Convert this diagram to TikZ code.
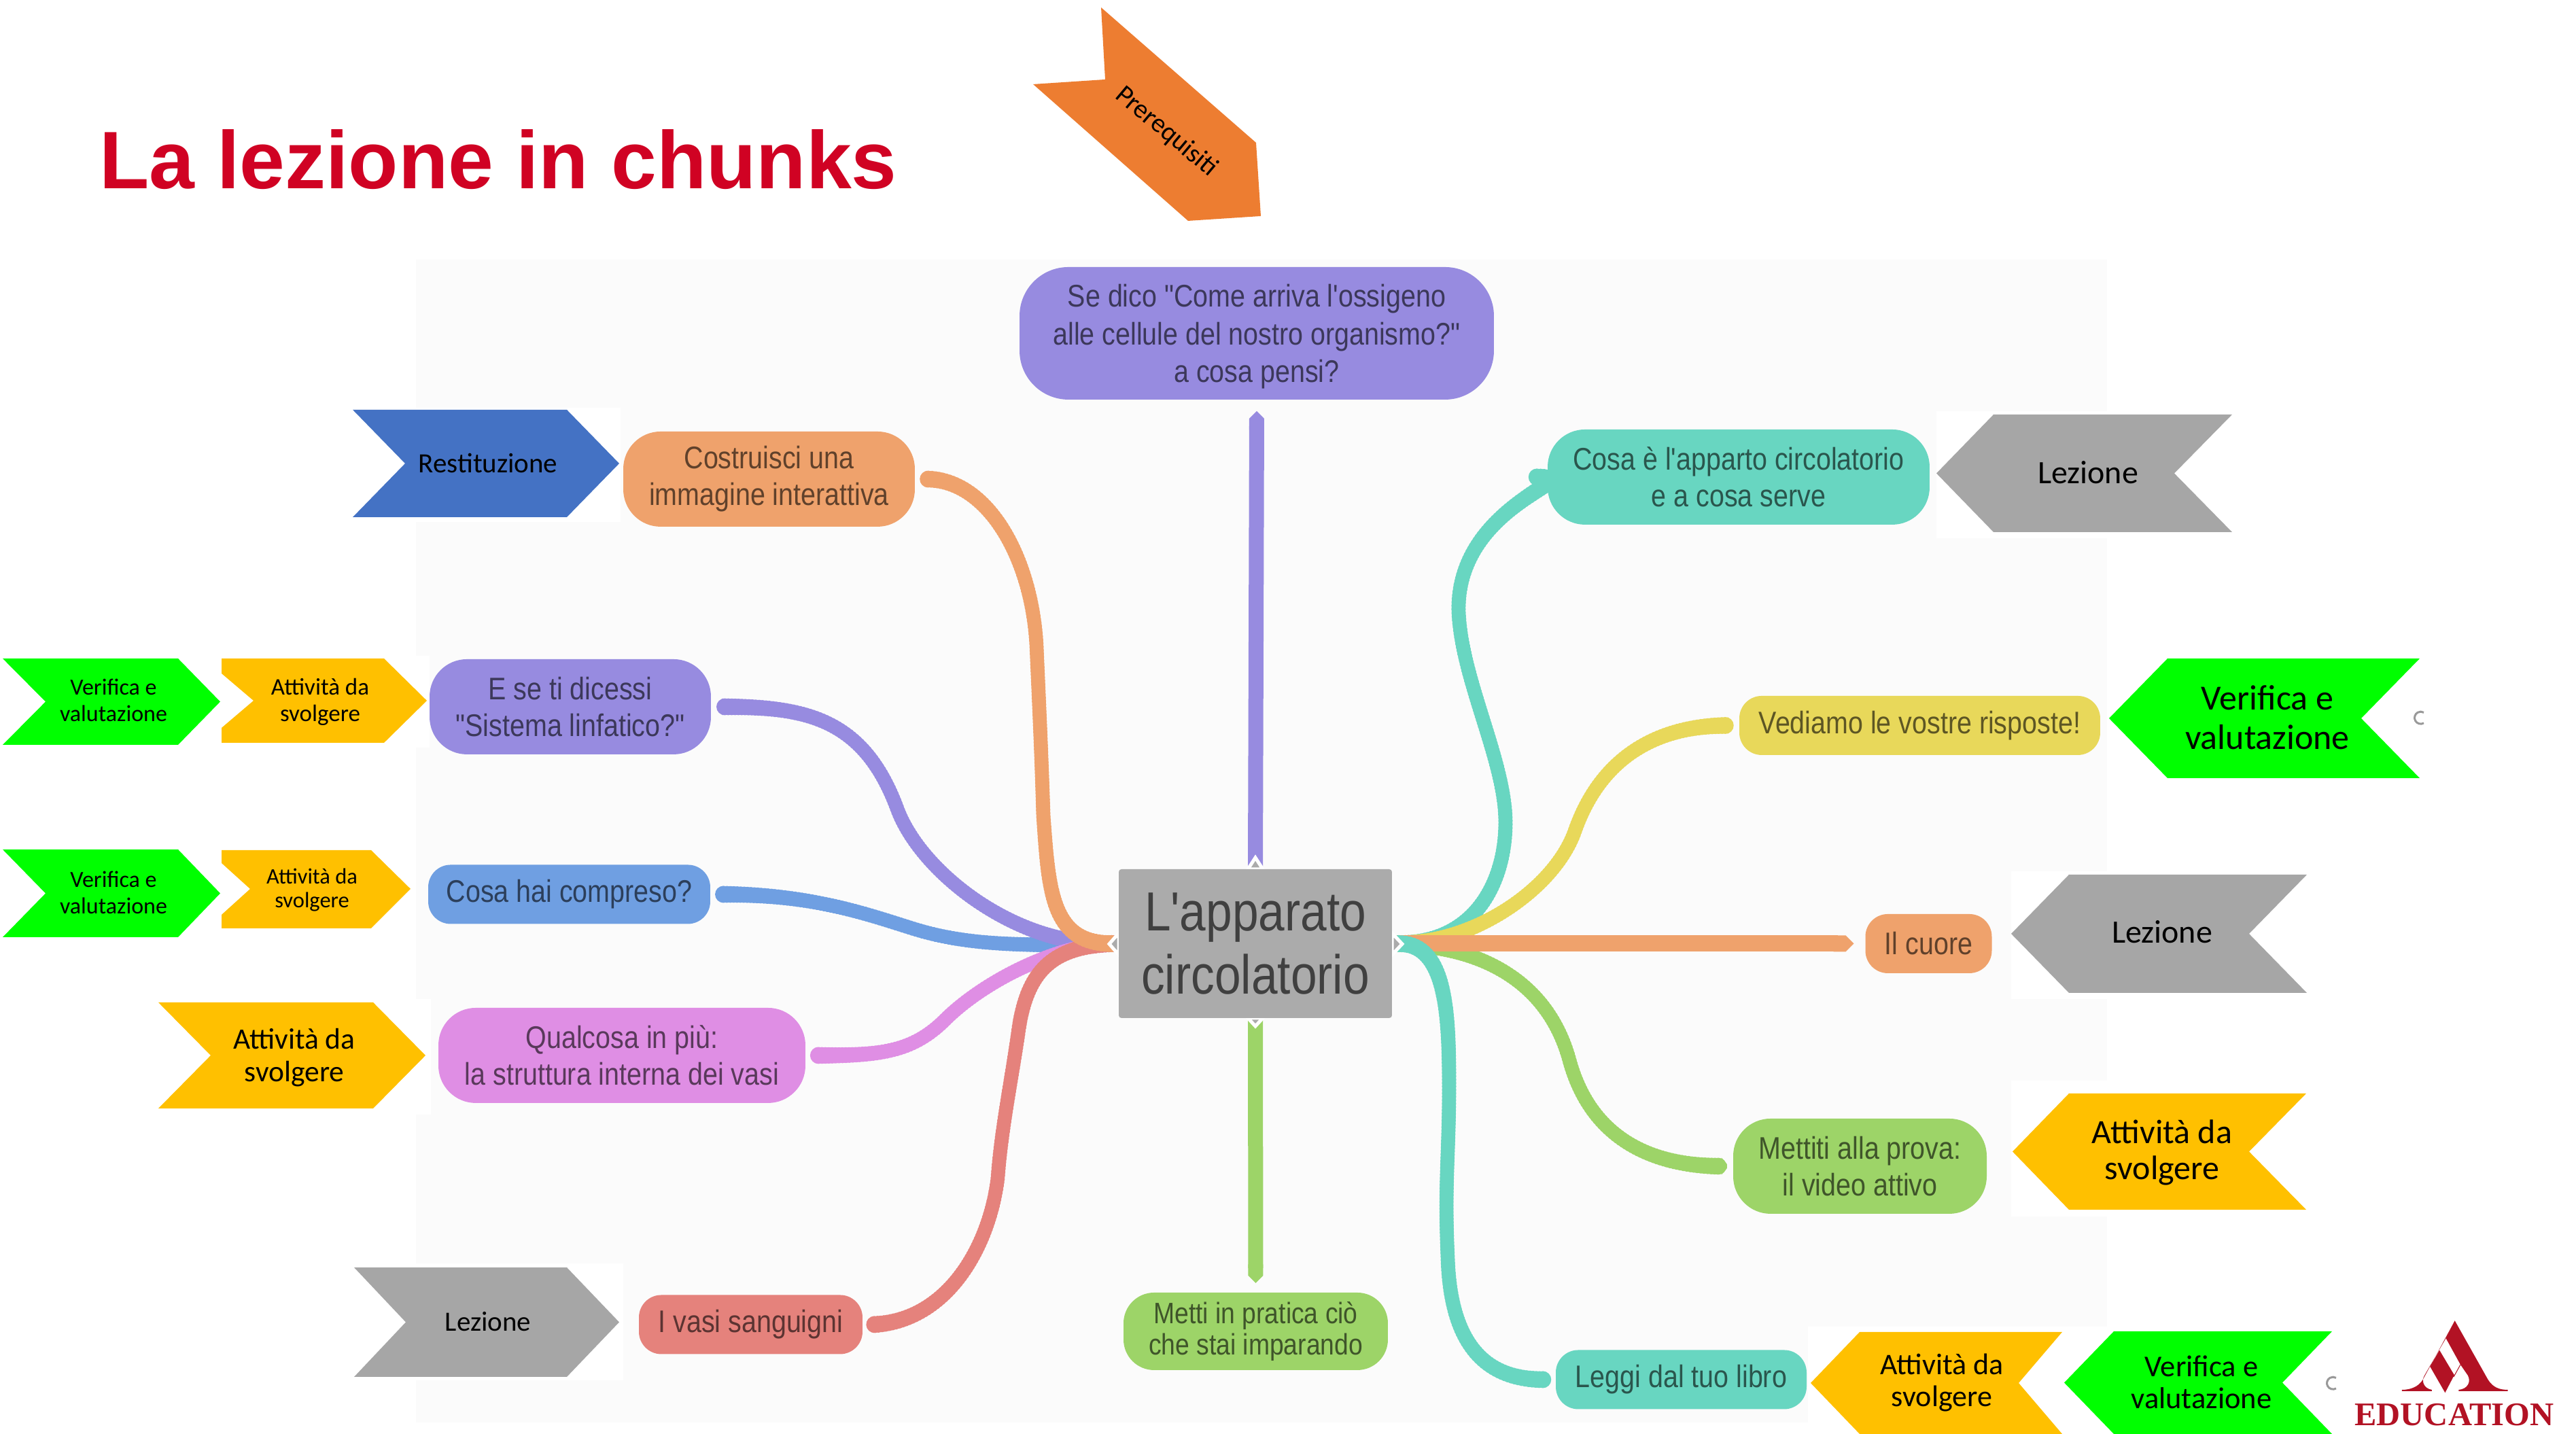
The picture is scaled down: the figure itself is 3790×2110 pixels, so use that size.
\documentclass[tikz,border=0pt]{standalone}
\usepackage{fontspec}
\setmainfont{Carlito}
\newfontfamily\mapfont[FakeStretch=0.857]{Liberation Sans}
\newfontfamily\titlefont{Liberation Sans}
\newfontfamily\logofont{Liberation Serif}
\usetikzlibrary{arrows.meta}
\usetikzlibrary{decorations.markings}

\definecolor{cTitolo}{HTML}{D00223}
\definecolor{cPrereq}{HTML}{ED7D31}
\definecolor{cRest}{HTML}{4472C4}
\definecolor{cViola}{HTML}{978BE0}
\definecolor{cBlu}{HTML}{6F9FE2}
\definecolor{cRosa}{HTML}{DF8EE4}
\definecolor{cRosso}{HTML}{E5827C}
\definecolor{cArancio}{HTML}{EFA26C}
\definecolor{cTeal}{HTML}{68D6C1}
\definecolor{cGiallo}{HTML}{E8D85A}
\definecolor{cVerde}{HTML}{9DD468}
\definecolor{cCentro}{HTML}{ABABAB}
\definecolor{cGrigio}{HTML}{A6A6A6}
\definecolor{cOro}{HTML}{FFC000}
\definecolor{cLime}{HTML}{00FF00}
\definecolor{cLogo}{HTML}{B21224}

\pgfdeclarelayer{sfondo}
\pgfdeclarelayer{rami}
\pgfsetlayers{sfondo,rami,main}

\tikzset{
  mind/.style={rectangle, inner sep=0pt, align=center, font=\mapfont\fontsize{4.6}{5.4}\selectfont},
  tall/.style={mind, minimum height=14pt, rounded corners=5.5pt},
  low/.style={mind, minimum height=8.7pt, rounded corners=3.3pt},
  lab/.style 2 args={inner sep=0pt, align=center, text=black, font=\fontsize{#1}{#2}\selectfont},
  trunk/.style={draw=#1, line width=2.2pt, -{Triangle Cap[]}},
  punta/.style={white, line width=0.5pt, fill=cCentro},
  branch/.style={decoration={markings,
      mark=between positions 0 and 1 step 0.5pt with {
        \pgfmathsetmacro{\relpos}{\pgfkeysvalueof{/pgf/decoration/mark info/distance from start}/\pgfdecoratedpathlength}
        \pgfmathsetmacro{\qpos}{abs(2*\relpos-1)}
        \pgfmathsetmacro{\branchr}{1.05+0.2*\qpos*\qpos*\qpos}
        \fill[#1] (0,0) circle[radius=\branchr pt];},
      mark=at position 1 with {\fill[#1] (0pt,-1.25pt) -- (0.8pt,-0.3pt) -- (0.8pt,0.3pt) -- (0pt,1.25pt) -- cycle;}},
    decorate}
}

\newcommand{\banner}[7]{\fill[#7] (#1,#5) -- (#3,#5) -- (#4,{(#5+#6)/2}) -- (#3,#6) -- (#1,#6) -- (#2,{(#5+#6)/2}) -- cycle;}

\begin{document}
\begin{tikzpicture}[x=0.1pt, y=-0.1pt]
  \useasboundingbox (0,0) rectangle (3790,2110);

  % sfondo della mappa
  \begin{pgfonlayer}{sfondo}
    \fill[white] (0,0) rectangle (3790,2110);
    \fill[black!1.5] (612,382) rectangle (3100,2093);
    \foreach \xa/\ya/\xb/\yb in {612/600/913/768, 612/965/632/1100, 612/1470/634/1640, 612/1859/917/2031,
        2849/605/3100/792, 2959/1282/3100/1470, 2959/1590/3100/1790, 2660/1952/3100/2093}
      \fill[white] (\xa,\ya) rectangle (\xb,\yb);
  \end{pgfonlayer}

  \node[anchor=base west, inner sep=0pt, text=cTitolo, font=\titlefont\bfseries\fontsize{12}{12}\selectfont] (titolo) at (144,278) {La lezione in chunks};

  \fill[cPrereq] (1620,11) -- (1848,210) -- (1855,318) -- (1748,325) -- (1520,124) -- (1626,117) -- cycle;
  \node[lab={3.95}{5}, rotate=-40] (prereq) at (1716,194) {Prerequisiti};

  % punte del nodo centrale
  \draw[punta] (1646,1373) -- (1632,1389) -- (1646,1405) -- cycle;
  \draw[punta] (2048,1373) -- (2063,1389) -- (2048,1405) -- cycle;
  \draw[punta] (1836,1279) -- (1847,1262) -- (1858,1279) -- cycle;
  \draw[punta] (1836,1498) -- (1847,1510) -- (1858,1498) -- cycle;

  % nodi
  \node[mind, fill=cCentro, text=black!75, minimum width=40.2pt, minimum height=21.9pt, rounded corners=0.4pt, font=\mapfont\fontsize{8.1}{9.3}\selectfont] (centro) at (1847,1388.5) {L'apparato\\circolatorio};
  \node[mind, fill=cViola, text=cViola!40!black, minimum width=69.8pt, minimum height=19.5pt, rounded corners=7.2pt, font=\mapfont\fontsize{4.6}{5.55}\selectfont] (domanda) at (1849,490.5) {\rule{0pt}{4.3pt}Se dico "Come arriva l'ossigeno\\alle cellule del nostro organismo?"\\a cosa pensi?};
  \node[tall, fill=cArancio, text=cArancio!40!black, minimum width=42.9pt] (immagine) at (1131.5,705) {Costruisci una\\immagine interattiva};
  \node[tall, fill=cViola, text=cViola!40!black, minimum width=41.4pt] (linfatico) at (839,1040) {E se ti dicessi\\"Sistema linfatico?"};
  \node[low, fill=cBlu, text=cBlu!40!black, minimum width=41.5pt] (compreso) at (837.5,1316) {Cosa hai compreso?};
  \node[tall, fill=cRosa, text=cRosa!40!black, minimum width=54pt] (struttura) at (915,1553) {Qualcosa in più:\\la struttura interna dei vasi};
  \node[low, fill=cRosso, text=cRosso!40!black, minimum width=32.9pt] (vasi) at (1104.5,1949) {I vasi sanguigni};
  \node[mind, fill=cVerde, text=cVerde!40!black, minimum width=38.9pt, minimum height=11.4pt, rounded corners=4.5pt, font=\mapfont\fontsize{4.35}{4.6}\selectfont] (pratica) at (1847.5,1959) {Metti in pratica ciò\\che stai imparando};
  \node[tall, fill=cTeal, text=cTeal!40!black, minimum width=56.2pt] (apparato) at (2558,702) {Cosa è l'apparto circolatorio\\e a cosa serve};
  \node[low, fill=cGiallo, text=cGiallo!40!black, minimum width=53.1pt] (risposte) at (2824.5,1067.5) {Vediamo le vostre risposte!};
  \node[low, fill=cArancio, text=cArancio!40!black, minimum width=18.6pt] (cuore) at (2837.5,1388.5) {Il cuore};
  \node[tall, fill=cVerde, text=cVerde!40!black, minimum width=37.3pt] (video) at (2736.5,1716) {Mettiti alla prova:\\il video attivo};
  \node[low, fill=cTeal, text=cTeal!40!black, minimum width=36.9pt] (libro) at (2473.5,2030) {Leggi dal tuo libro};

  % rami
  \begin{pgfonlayer}{rami}
    \draw[trunk=cViola] (centro.north) -- ([yshift=-1.5pt]domanda.south);
    \draw[trunk=cVerde] (centro.south) -- ([yshift=1.2pt]pratica.north);
    \path[branch=cBlu] ([xshift=-0.8pt]centro.west) .. controls +(-150,5) and +(70,22) .. (1342,1366) .. controls +(-70,-22) and +(130,0) .. ([xshift=1.6pt]compreso.east);
    \path[branch=cViola] ([xshift=-0.8pt]centro.west) .. controls +(-138,6) and +(35,95) .. (1320,1190) .. controls +(-50,-135) and +(120,0) .. ([xshift=1.5pt]linfatico.east);
    \path[branch=cRosa] ([xshift=-0.8pt]centro.west) .. controls +(-100,5) and +(45,-45) .. (1391,1500) .. controls +(-50,50) and +(90,0) .. ([xshift=1.5pt]struttura.east);
    \path[branch=cRosso] ([xshift=-0.8pt]centro.west) .. controls +(-90,5) and +(12,-90) .. (1498,1520) .. controls +(-10,70) and +(5,-70) .. (1468,1733) .. controls +(-12,100) and +(110,-5) .. ([xshift=1.4pt]vasi.east);
    \path[branch=cArancio] ([xshift=-0.8pt]centro.west) .. controls +(-90,0) and +(8,110) .. (1535,1200) .. controls +(-3,-100) and +(3,70) .. (1525,950) .. controls +(-7,-130) and +(90,0) .. ([xshift=1.5pt]immagine.east);
    \path[branch=cTeal] ([xshift=0.8pt]centro.east) .. controls +(110,0) and +(0,90) .. (2215,1210) .. controls +(0,-90) and +(4,100) .. (2146,900) .. controls +(-4,-160) and +(86,0) .. ([xshift=-1.6pt]apparato.west);
    \path[branch=cGiallo] ([xshift=0.8pt]centro.east) .. controls +(110,0) and +(-30,85) .. (2317,1223) .. controls +(35,-100) and +(-114,0) .. ([xshift=-1.5pt]risposte.west);
    \path[branch=cVerde] ([xshift=0.8pt]centro.east) .. controls +(130,5) and +(-30,-110) .. (2309,1560) .. controls +(30,110) and +(-110,0) .. ([xshift=-1.5pt]video.west);
    \draw[trunk=cArancio, line width=2.4pt] ([xshift=0.8pt]centro.east) -- ([xshift=-1.5pt]cuore.west);
    \path[branch=cTeal] ([xshift=0.8pt]centro.east) .. controls +(70,0) and +(0,-110) .. (2132,1600) .. controls +(0,100) and +(-5,-110) .. (2130,1850) .. controls +(4,140) and +(-76,0) .. ([xshift=-1.6pt]libro.west);
  \end{pgfonlayer}

  % etichette
  \banner{519}{596}{834}{911}{603}{761}{cRest}
  \node[lab={4.1}{4.8}] (restituzione) at (718,682) {Restituzione};
  \banner{4}{67}{262}{324}{969}{1096}{cLime}
  \node[lab={3.4}{3.9}] (verificaA) at (167,1030) {Verifica e\\valutazione};
  \fill[cOro] (326,969) -- (565,969) -- (628,1031) -- (565,1093) -- (326,1093) -- (326,1071) -- (373,1031) -- (326,991) -- cycle;
  \node[lab={3.5}{3.9}] (attivitaA) at (471,1033) {Attività da\\svolgere};
  \banner{4}{67}{262}{324}{1250}{1379}{cLime}
  \node[lab={3.4}{3.9}] (verificaB) at (167,1313) {Verifica e\\valutazione};
  \fill[cOro] (326,1251) -- (546,1251) -- (604,1308) -- (546,1366) -- (326,1366) -- (326,1346) -- (368,1308) -- (326,1270) -- cycle;
  \node[lab={3.25}{3.5}] (attivitaB) at (459,1310) {Attività da\\svolgere};
  \banner{233}{310}{549}{626}{1475}{1631}{cOro}
  \node[lab={4.35}{4.8}] (attivitaC) at (433,1556) {Attività da\\svolgere};
  \banner{521}{597}{834}{911}{1865}{2026}{cGrigio}
  \node[lab={4.1}{4.8}] (lezioneA) at (718,1945) {Lezione};
  \banner{3284}{3199}{2933}{2849}{610}{783}{cGrigio}
  \node[lab={4.8}{5.4}] (lezioneB) at (3072,695) {Lezione};
  \banner{3560}{3474}{3189}{3103}{969}{1145}{cLime}
  \node[lab={5.2}{5.8}] (verificaC) at (3336,1056) {Verifica e\\valutazione};
  \banner{3394}{3309}{3044}{2959}{1287}{1461}{cGrigio}
  \node[lab={4.8}{5.4}] (lezioneC) at (3181,1371) {Lezione};
  \banner{3393}{3309}{3044}{2961}{1609}{1780}{cOro}
  \node[lab={5}{5.3}] (attivitaD) at (3181,1696) {Attività da\\svolgere};
  \banner{3034}{2970}{2736}{2664}{1960}{2110}{cOro}
  \node[lab={4.4}{4.7}] (attivitaE) at (2857,2035) {Attività da\\svolgere};
  \banner{3431}{3358}{3110}{3037}{1959}{2110}{cLime}
  \node[lab={4.45}{4.7}] (verificaD) at (3239,2034) {Verifica e\\valutazione};

  \draw[black!40, line width=0.3pt] (3566,1064) arc[start angle=60, end angle=300, radius=9];
  \draw[black!40, line width=0.3pt] (3437,2043) arc[start angle=60, end angle=300, radius=9];

  % logo
  \fill[cLogo] (3611.7,1943.3) -- (3660.5,2030) .. controls (3668,2042) and (3678,2045) .. (3689.5,2045) -- (3689.5,2047) -- (3617.3,2047) -- (3617.3,2045) .. controls (3630,2044) and (3636,2034) .. (3631,2024) -- (3620,2008) -- (3598.5,1969) -- cycle;
  \fill[cLogo] (3611.7,1943.3) -- (3564.7,2030) .. controls (3558,2041) and (3546,2045) .. (3533.8,2045) -- (3533.8,2047) -- (3577.8,2047) -- (3577.8,2045) .. controls (3566,2043) and (3562,2032) .. (3567,2024) -- (3598.5,1969.3) -- cycle;
  \fill[cLogo] (3575.2,2010.7) -- (3589.1,1986.7) -- (3610.9,2023.3) -- (3597.4,2049.3) -- cycle;
  \draw[cLogo, line width=0.1pt] (3620,2008) -- (3610,2026);
  \node[anchor=base, inner sep=0pt, text=cLogo, font=\logofont\bfseries\fontsize{4.85}{4.85}\selectfont] (education) at (3611,2098) {EDUCATION};
\end{tikzpicture}
\end{document}
